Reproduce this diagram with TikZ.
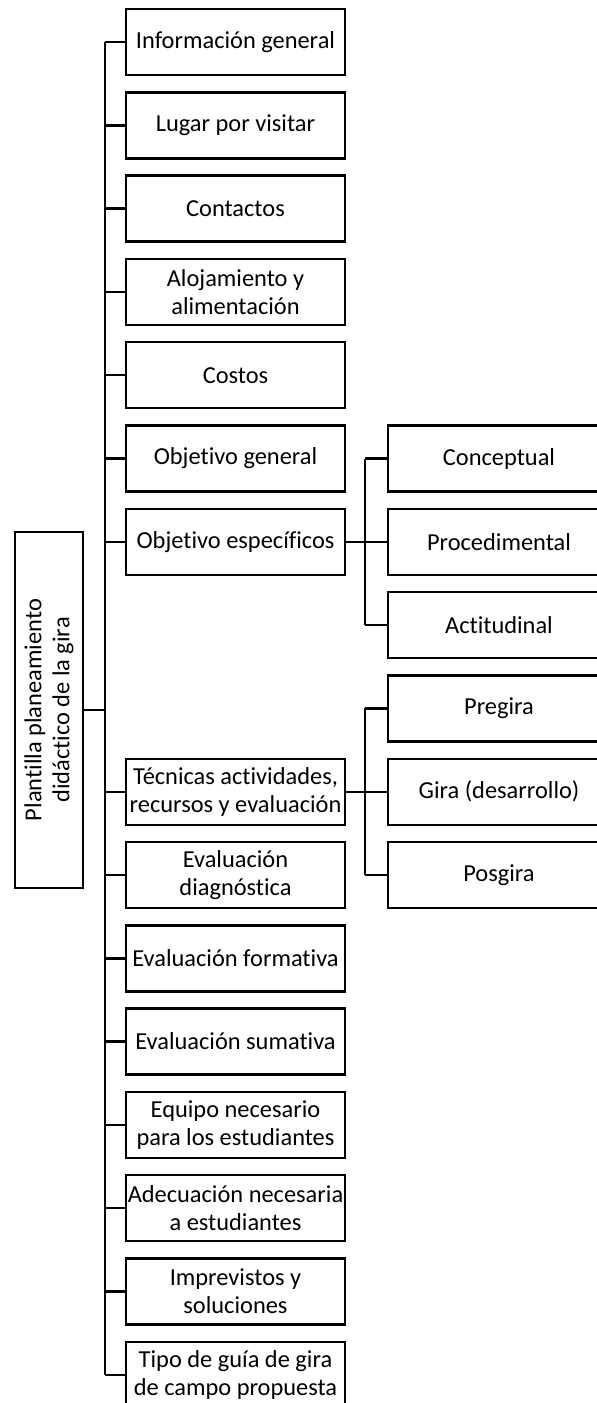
\documentclass[tikz,border=0pt]{standalone}
\usepackage{fontspec}
\setmainfont{Carlito}[Ligatures=NoCommon]
\usetikzlibrary{positioning,calc}

\begin{document}
\begin{tikzpicture}[x=1pt,y=-1pt,
    item/.style={draw,line width=2.4pt,minimum width=219pt,minimum height=66pt,align=center,inner sep=2pt,font=\fontsize{24.4}{28}\selectfont},
    sub/.style={item,minimum width=222pt},
    root/.style={item,minimum width=356pt,minimum height=68pt,rotate=90},
    link/.style={line width=2.4pt}
]
\clip (0,0) rectangle (597,1403);
\coordinate (sp) at (105,0);
\foreach \k/\name/\txt in {1/info/Información general,2/lugar/Lugar por visitar,3/cont/Contactos,
    4/aloj/{Alojamiento y\\alimentación},5/cost/Costos,6/objgen/Objetivo general,7/objesp/Objetivo específicos,
    10/tec/{Técnicas actividades,\\recursos y evaluación},11/diag/{Evaluación\\diagnóstica},
    12/form/Evaluación formativa,13/sum/Evaluación sumativa,14/equipo/{Equipo necesario\\para los estudiantes},
    15/adec/{Adecuación necesaria\\a estudiantes},16/impr/{Imprevistos y\\soluciones},17/tipo/{Tipo de guía de gira\\de campo propuesta}}
    \node[item] (m\name) at (235.5,{42+83.3*(\k-1)}) {\txt};
\foreach \k/\name/\txt in {6/con/Conceptual,7/proc/Procedimental,8/act/Actitudinal,
    9/pre/Pregira,10/gira/Gira (desarrollo),11/pos/Posgira}
    \node[sub] (s\name) at (499,{42+83.3*(\k-1)}) {\txt};
\node[root] (root) at (49,710) {Plantilla planeamiento\\didáctico de la gira};
% main spine
\draw[link] (minfo.west -| sp) -- (mtipo.west -| sp);
\draw[link] (root.south) -- (root.south -| sp);
\foreach \m in {info,lugar,cont,aloj,cost,objgen,objesp,tec,diag,form,sum,equipo,adec,impr,tipo}
    \draw[link] (m\m.west) -- (m\m.west -| sp);
% sub trees
\draw[link] (mobjesp.east) -- (sproc.west);
\draw[link] ([xshift=-22pt]scon.west) -- ([xshift=-22pt]sact.west);
\foreach \s in {con,act}
    \draw[link] (s\s.west) -- ++(-22,0);
\draw[link] (mtec.east) -- (sgira.west);
\draw[link] ([xshift=-22pt]spre.west) -- ([xshift=-22pt]spos.west);
\foreach \s in {pre,pos}
    \draw[link] (s\s.west) -- ++(-22,0);
\end{tikzpicture}
\end{document}
